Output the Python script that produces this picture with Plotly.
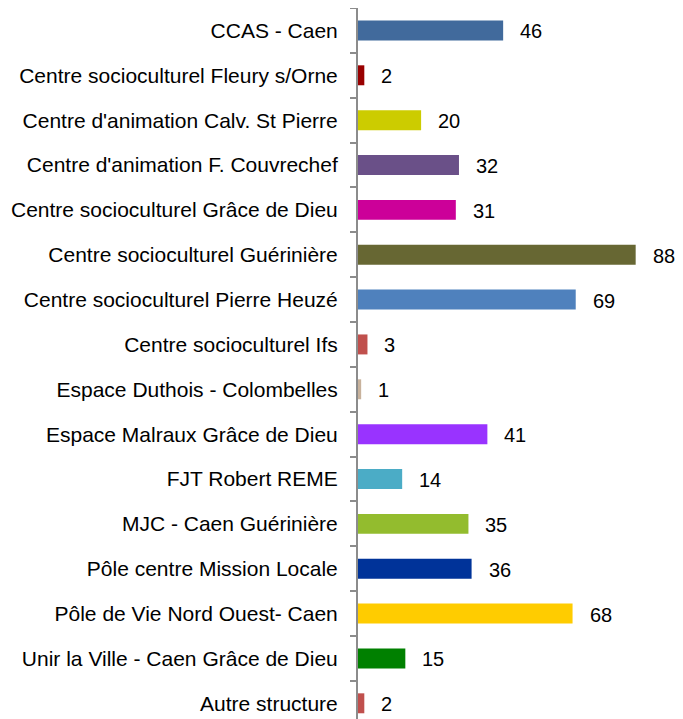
import plotly.graph_objects as go

# structures and number of participants
structures = [
    "CCAS - Caen",
    "Centre socioculturel Fleury s/Orne",
    "Centre d'animation Calv. St Pierre",
    "Centre d'animation F. Couvrechef",
    "Centre socioculturel Grâce de Dieu",
    "Centre socioculturel Guérinière",
    "Centre socioculturel Pierre Heuzé",
    "Centre socioculturel Ifs",
    "Espace Duthois - Colombelles",
    "Espace Malraux Grâce de Dieu",
    "FJT Robert REME",
    "MJC - Caen Guérinière",
    "Pôle centre Mission Locale",
    "Pôle de Vie Nord Ouest- Caen",
    "Unir la Ville - Caen Grâce de Dieu",
    "Autre structure",
]
counts = [46, 2, 20, 32, 31, 88, 69, 3, 1, 41, 14, 35, 36, 68, 15, 2]
colors = [
    "#416A9C", "#990000", "#CCCC00", "#6A5088", "#CC0099", "#676733",
    "#4F81BD", "#C0504D", "#C8B29C", "#9933FF", "#4BACC6", "#93BC2E",
    "#003399", "#FFCC00", "#008000", "#C0504D",
]

FONT = "Liberation Sans, Arial"

fig = go.Figure()

fig.add_trace(
    go.Bar(
        x=counts,
        y=structures,
        orientation="h",
        marker_color=colors,
        marker_line_width=0,
        width=0.445,
        hoverinfo="x+y",
    )
)

# value labels to the right of each bar
for s, v in zip(structures, counts):
    fig.add_annotation(
        x=v, y=s, text=str(v),
        xanchor="left", yanchor="middle",
        xshift=15, yshift=-1,
        showarrow=False,
        font=dict(family=FONT, size=20, color="#000000"),
    )

# page body has an 8px margin, so the figure is sized to the visible area
fig.update_layout(
    width=675,
    height=711,
    margin=dict(l=350, r=0, t=0, b=0),
    plot_bgcolor="white",
    paper_bgcolor="white",
    showlegend=False,
    font=dict(family=FONT, color="#000000"),
)

fig.update_xaxes(
    range=[0, 103],
    visible=False,
    showgrid=False,
    zeroline=False,
)

fig.update_yaxes(
    type="category",
    range=[15.35, -0.5],
    showline=True,
    linecolor="#8c8c8c",
    linewidth=2,
    ticks="outside",
    tickson="boundaries",
    ticklen=6,
    tickwidth=2,
    tickcolor="#8c8c8c",
    ticklabelstandoff=14,
    tickfont=dict(family=FONT, size=21, color="#000000"),
    showgrid=False,
    zeroline=False,
)

fig.write_html("out.html")
